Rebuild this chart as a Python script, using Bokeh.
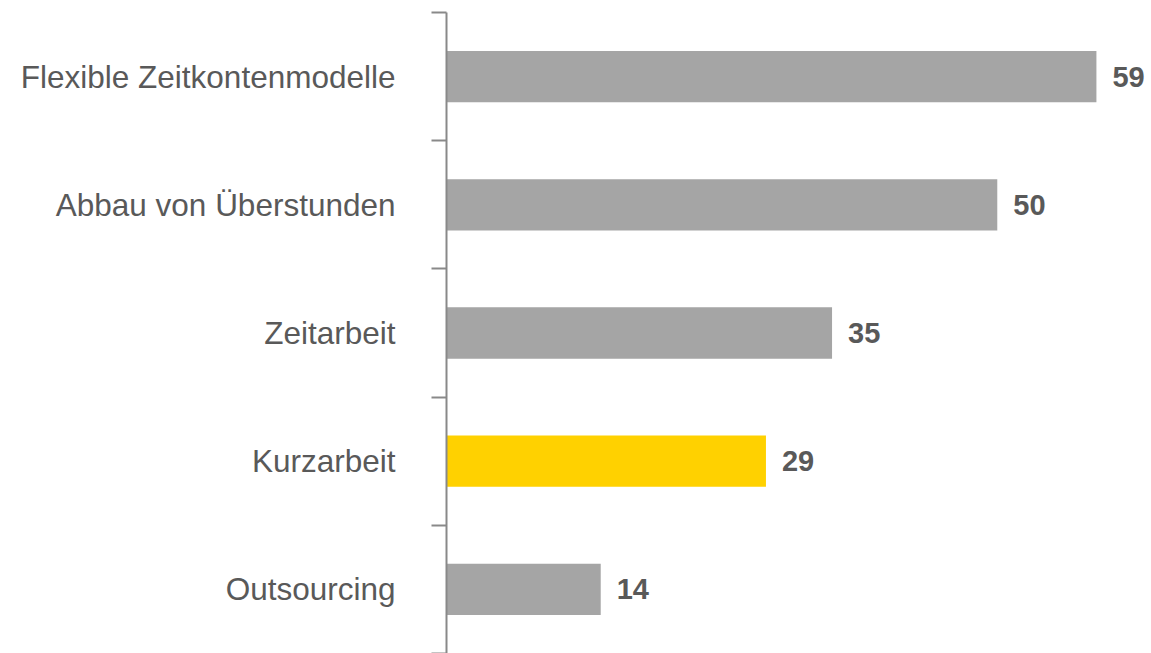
from bokeh.plotting import figure
from bokeh.models import ColumnDataSource, LabelSet, FixedTicker, Range1d
from bokeh.core.properties import value
from bokeh.embed import file_html
from bokeh.resources import INLINE

categories = ["Flexible Zeitkontenmodelle", "Abbau von Überstunden", "Zeitarbeit", "Kurzarbeit", "Outsourcing"]
values = [59, 50, 35, 29, 14]
highlight = [False, False, False, True, False]

GREY = "#A5A5A5"
YELLOW = "#FFD100"
TEXT = "#595959"

n = len(categories)
ypos = [i + 0.5 for i in range(n)]
colors = [YELLOW if h else GREY for h in highlight]
labels = [str(v) for v in values]

src = ColumnDataSource(dict(y=ypos, v=values, c=colors, lab=labels))

p = figure(width=1151, height=653, output_backend="svg", toolbar_location=None,
           x_range=Range1d(0, 64), y_range=Range1d(n, 0),
           x_axis_location=None, min_border_left=446, min_border_right=0,
           min_border_top=12, min_border_bottom=0)
p.outline_line_color = None
p.xgrid.grid_line_color = None
p.ygrid.grid_line_color = None
p.background_fill_color = "white"
p.border_fill_color = "white"

p.hbar(y="y", left=0, right="v", height=0.4, fill_color="c", line_color=None, source=src)

ax = p.yaxis[0]
ax.ticker = FixedTicker(ticks=ypos, minor_ticks=list(range(n + 1)))
ax.major_label_overrides = {y: c for y, c in zip(ypos, categories)}
ax.major_tick_out = 0
ax.major_tick_in = 0
ax.minor_tick_out = 15
ax.minor_tick_in = 0
ax.minor_tick_line_color = "#898989"
ax.minor_tick_line_width = 2
ax.axis_line_color = "#898989"
ax.axis_line_width = 2
ax.major_label_standoff = 36
ax.major_label_text_font = "Liberation Sans"
ax.major_label_text_font_size = "31.5px"
ax.major_label_text_color = TEXT

vl = LabelSet(x="v", y="y", text="lab", source=src, x_offset=16,
              text_baseline="middle", text_align="left",
              text_font=value("Liberation Sans"), text_font_style="bold",
              text_font_size="29px", text_color=TEXT)
p.add_layout(vl)

open("out.html", "w").write(file_html(p, INLINE))
